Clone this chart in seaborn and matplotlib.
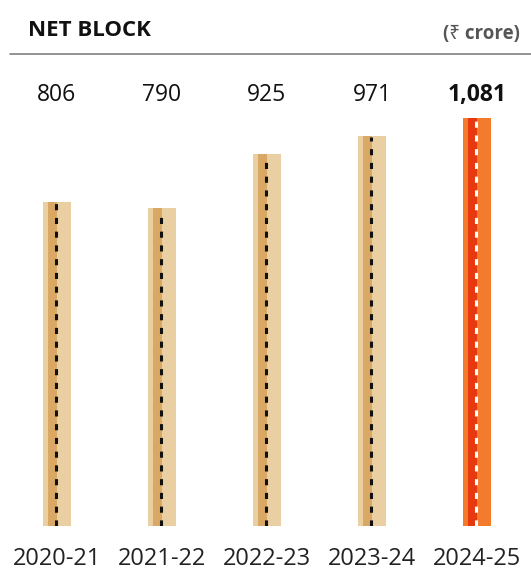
import matplotlib
matplotlib.use("Agg")
import matplotlib.pyplot as plt
import matplotlib.transforms as mtransforms
from matplotlib.lines import Line2D
import seaborn as sns
import pandas as pd

# data
years = ["2020-21", "2021-22", "2022-23", "2023-24", "2024-25"]
net_block = [806, 790, 925, 971, 1081]
labels = ["806", "790", "925", "971", "1,081"]
# drawn bar heights (the last bar is capped in the original artwork)
bar_height = [806, 790, 925, 971, 1015]

light = ["#EACFA2"] * 4 + ["#F47A2C"]
dark = ["#DAA865"] * 4 + ["#E8380F"]
dash = ["#111111"] * 4 + ["#FFFFFF"]

sns.set_theme(style="white")
plt.rcParams["font.family"] = ["Open Sans", "Noto Sans", "DejaVu Sans"]

df = pd.DataFrame({"year": years, "height": bar_height})

fig = plt.figure(figsize=(5.31, 5.72), dpi=100)
W, H = 531, 572
ax = fig.add_axes([4.5 / W, (H - 526) / H, 525 / W, 466 / H])

bw = 0.267
sns.barplot(data=df, x="year", y="height", hue="year", palette=light,
            width=bw, legend=False, ax=ax, saturation=1, linewidth=0)

# darker strip and dashed centre line inside each bar
for i, h in enumerate(bar_height):
    left = i - bw / 2
    ax.bar(left + 0.048, h, width=0.086, align="edge", color=dark[i], linewidth=0)
    ax.vlines(i - 0.014, 0, h - 3, colors=dash[i], linewidth=2.2,
              linestyles=(0, (2.0, 2.5)))

ax.set_xlim(-0.5, 4.5)
ax.set_ylim(0, 1159)
ax.set_yticks([])
ax.set_xlabel("")
ax.set_ylabel("")
sns.despine(ax=ax, left=True, bottom=True)
ax.tick_params(axis="x", length=0, pad=15, labelsize=17, labelcolor="#222222")

# value labels on a fixed row
trans = mtransforms.blended_transform_factory(ax.transData, fig.transFigure)
for i, lab in enumerate(labels):
    ax.text(i, 1 - 95 / H, lab, transform=trans, ha="center", va="center",
            fontsize=16.5, color="#111111",
            fontweight="bold" if i == len(labels) - 1 else "normal")

# header
fig.text(28 / W, 1 - 30 / H, "NET BLOCK", ha="left", va="center",
         fontsize=16, fontweight="bold", color="#111111")
fig.text(520 / W, 1 - 34 / H, "(₹ crore)", ha="right", va="center",
         fontsize=13.5, fontweight="bold", color="#555555")
fig.add_artist(Line2D([10 / W, 1.0], [1 - 54 / H, 1 - 54 / H],
                      transform=fig.transFigure, color="#808080", linewidth=1.2))

fig.savefig("out.png", dpi=100, facecolor="white")
